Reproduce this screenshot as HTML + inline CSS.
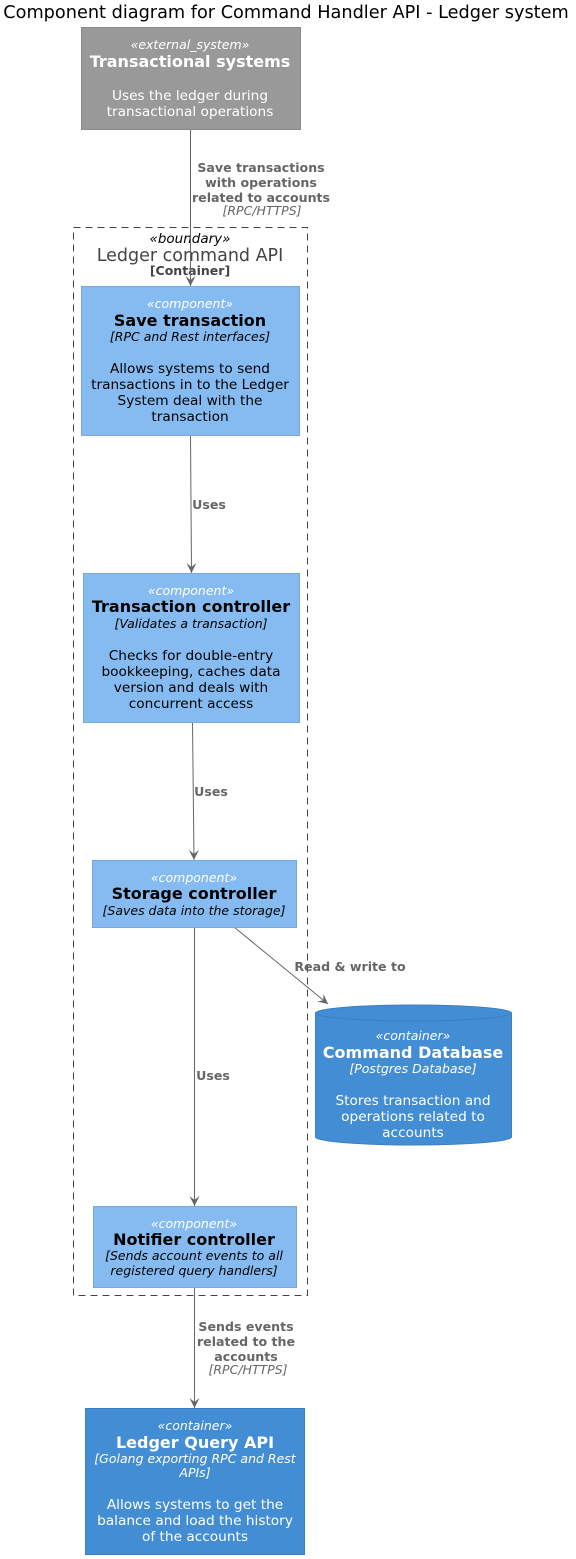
<!DOCTYPE html>
<html><head><meta charset="utf-8"><style>
html,body{margin:0;padding:0;background:#fff}
svg{display:block}
text{font-family:"DejaVu Sans","Liberation Sans",sans-serif;text-anchor:middle}
.st{font-size:12.5px;font-style:italic}
.nm{font-size:16px;font-weight:bold}
.tc{font-size:12.5px;font-style:italic}
.ds{font-size:13.7px}
.lb{font-size:12.6px;font-weight:bold;fill:#666}
.li{font-size:12.5px;font-style:italic;fill:#666}
.w{fill:#fff}
.k{fill:#000}
</style></head><body>
<svg width="576" height="1559" viewBox="0 0 576 1559" xmlns="http://www.w3.org/2000/svg">
<defs><marker id="a" markerWidth="12" markerHeight="12" refX="10" refY="5" orient="auto" markerUnits="userSpaceOnUse"><path d="M0,0 L10,5 L0,10 L4,5 Z" fill="#666"/></marker></defs>
<text x="286" y="18" style="font-size:17.7px" class="k">Component diagram for Command Handler API - Ledger system</text>

<rect x="73.5" y="227.5" width="234" height="1068" fill="none" stroke="#444" stroke-dasharray="7,5"/>
<text x="190" y="243" class="st" style="font-size:13.5px;fill:#000">«boundary»</text>
<text x="190" y="261" style="font-size:17.5px;fill:#444">Ledger command API</text>
<text x="190" y="275" style="font-size:12.5px;font-weight:bold;fill:#444">[Container]</text>

<rect x="81.5" y="27.5" width="219" height="102" fill="#999" stroke="#8A8A8A"/>
<text x="190" y="49" class="st w">«external_system»</text>
<text x="190" y="67" class="nm w">Transactional systems</text>
<text x="190" y="100" class="ds w">Uses the ledger during</text>
<text x="190" y="116" class="ds w">transactional operations</text>

<g stroke="#666" stroke-width="1" fill="none">
<line x1="190.5" y1="130" x2="190.5" y2="286" marker-end="url(#a)"/>
<line x1="190.5" y1="435" x2="191.5" y2="573" marker-end="url(#a)"/>
<line x1="192.5" y1="722" x2="194" y2="860" marker-end="url(#a)"/>
<line x1="234" y1="927" x2="328" y2="1004" marker-end="url(#a)"/>
<line x1="194.5" y1="927" x2="194.5" y2="1206" marker-end="url(#a)"/>
<line x1="194.5" y1="1287" x2="194.5" y2="1408" marker-end="url(#a)"/>
</g>
<text x="261" y="172" class="lb">Save transactions</text>
<text x="261" y="187" class="lb">with operations</text>
<text x="261" y="202" class="lb">related to accounts</text>
<text x="262" y="215" class="li">[RPC/HTTPS]</text>
<text x="209" y="509" class="lb">Uses</text>
<text x="211" y="796" class="lb">Uses</text>
<text x="350" y="971" class="lb">Read &amp; write to</text>
<text x="213" y="1080" class="lb">Uses</text>
<text x="246" y="1331" class="lb">Sends events</text>
<text x="246" y="1346" class="lb">related to the</text>
<text x="246" y="1361" class="lb">accounts</text>
<text x="248" y="1374" class="li">[RPC/HTTPS]</text>

<rect x="81.5" y="286.5" width="218" height="149" fill="#85BBF0" stroke="#78A8D8"/>
<text x="190" y="308" class="st w">«component»</text>
<text x="190" y="326" class="nm k">Save transaction</text>
<text x="190" y="341" class="tc k">[RPC and Rest interfaces]</text>
<text x="190" y="373" class="ds k">Allows systems to send</text>
<text x="190" y="389" class="ds k">transactions in to the Ledger</text>
<text x="190" y="405" class="ds k">System deal with the</text>
<text x="190" y="421" class="ds k">transaction</text>

<rect x="83.5" y="573.5" width="216" height="149" fill="#85BBF0" stroke="#78A8D8"/>
<text x="191" y="595" class="st w">«component»</text>
<text x="191" y="612" class="nm k">Transaction controller</text>
<text x="191" y="628" class="tc k">[Validates a transaction]</text>
<text x="191" y="660" class="ds k">Checks for double-entry</text>
<text x="191" y="676" class="ds k">bookkeeping, caches data</text>
<text x="191" y="692" class="ds k">version and deals with</text>
<text x="191" y="708" class="ds k">concurrent access</text>

<rect x="92.5" y="860.5" width="204" height="67" fill="#85BBF0" stroke="#78A8D8"/>
<text x="194" y="882" class="st w">«component»</text>
<text x="194" y="899" class="nm k">Storage controller</text>
<text x="194" y="915" class="tc k">[Saves data into the storage]</text>

<rect x="93.5" y="1206.5" width="203" height="81" fill="#85BBF0" stroke="#78A8D8"/>
<text x="194" y="1228" class="st w">«component»</text>
<text x="194" y="1245" class="nm k">Notifier controller</text>
<text x="194" y="1260" class="tc k">[Sends account events to all</text>
<text x="194" y="1275" class="tc k">registered query handlers]</text>

<path d="M315.5,1013 A98,8 0 0 1 511.5,1013 L511.5,1137 A98,8 0 0 1 315.5,1137 Z" fill="#438DD5" stroke="#3C7FC0"/>
<path d="M315.5,1013 A98,8 0 0 0 511.5,1013" fill="none" stroke="#3C7FC0"/>
<text x="413" y="1040" class="st w">«container»</text>
<text x="413" y="1058" class="nm w">Command Database</text>
<text x="413" y="1073" class="tc w">[Postgres Database]</text>
<text x="413" y="1105" class="ds w">Stores transaction and</text>
<text x="413" y="1121" class="ds w">operations related to</text>
<text x="413" y="1137" class="ds w">accounts</text>

<rect x="85.5" y="1408.5" width="219" height="146" fill="#438DD5" stroke="#3C7FC0"/>
<text x="195" y="1430" class="st w">«container»</text>
<text x="195" y="1448" class="nm w">Ledger Query API</text>
<text x="195" y="1463" class="tc w">[Golang exporting RPC and Rest</text>
<text x="195" y="1477" class="tc w">APIs]</text>
<text x="195" y="1509" class="ds w">Allows systems to get the</text>
<text x="195" y="1525" class="ds w">balance and load the history</text>
<text x="195" y="1541" class="ds w">of the accounts</text>
</svg>
</body></html>
